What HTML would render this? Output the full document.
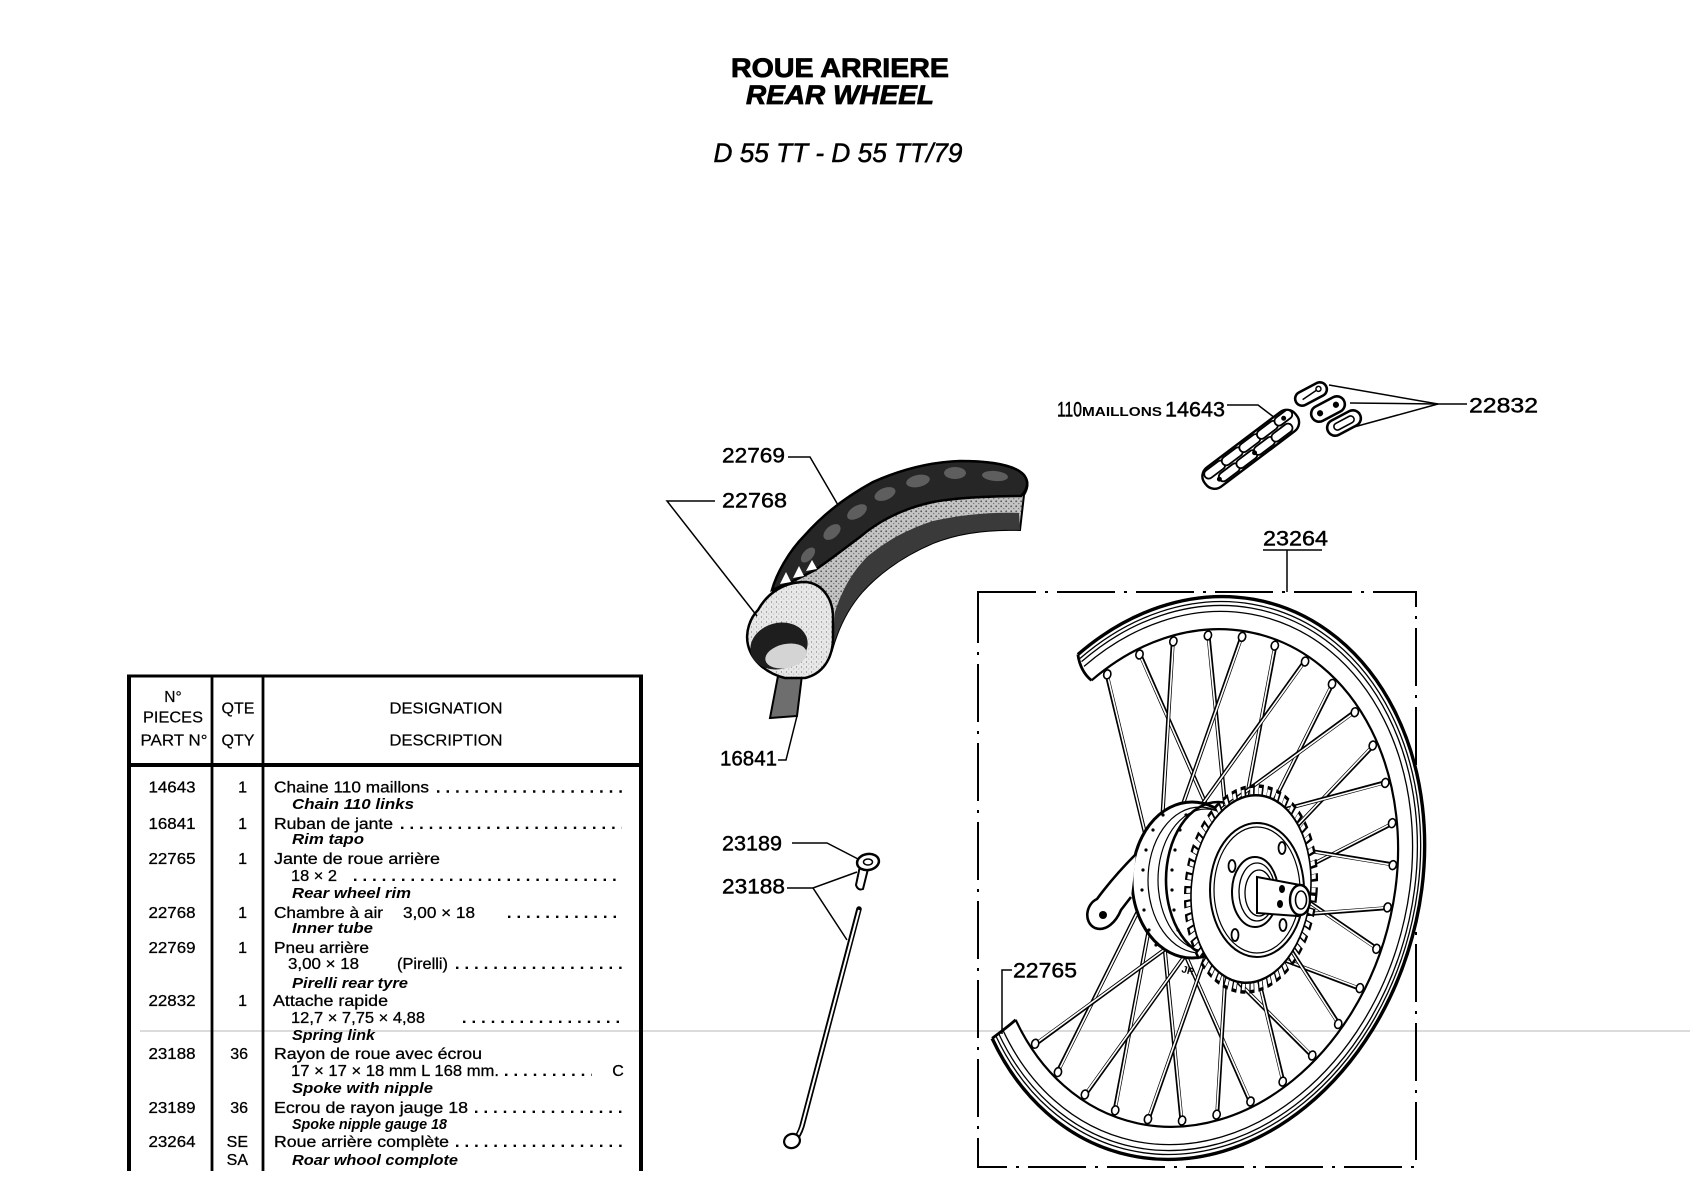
<!DOCTYPE html>
<html><head><meta charset="utf-8">
<style>
html,body{margin:0;padding:0;background:#fff;}
svg{display:block;}
text{font-family:"Liberation Sans",Arial,sans-serif;fill:#000;}
.t{font-size:16px;stroke:#000;stroke-width:0.3;}
.i{font-size:15px;font-style:italic;font-weight:bold;}
.h{font-size:15.5px;stroke:#000;stroke-width:0.2;}
.lb{font-size:21px;stroke:#000;stroke-width:0.45;}
.ld{stroke:#000;stroke-width:1.5;fill:none;}
.dt{stroke:#000;stroke-width:2.4;stroke-dasharray:2.4 7.2;}
</style></head>
<body>
<svg width="1690" height="1200" viewBox="0 0 1690 1200" xmlns="http://www.w3.org/2000/svg">
<defs>
<pattern id="st" width="5" height="5" patternUnits="userSpaceOnUse">
<rect width="5" height="5" fill="#c4c4c4"/><circle cx="1.2" cy="1.3" r="0.9" fill="#555"/><circle cx="3.7" cy="3.6" r="0.7" fill="#777"/>
</pattern>
<pattern id="st2" width="5" height="5" patternUnits="userSpaceOnUse">
<rect width="5" height="5" fill="#e8e8e8"/><circle cx="1.5" cy="2" r="0.6" fill="#777"/><circle cx="3.8" cy="4" r="0.5" fill="#999"/>
</pattern>
<g id="spA">
<line x1="250" y1="0" x2="24" y2="41.6" stroke="#000" stroke-width="4" vector-effect="non-scaling-stroke"/>
<line x1="246" y1="0" x2="24" y2="41.6" stroke="#fff" stroke-width="1.6" vector-effect="non-scaling-stroke"/>
</g>
<g id="spB">
<line x1="250" y1="0" x2="24" y2="-41.6" stroke="#000" stroke-width="4" vector-effect="non-scaling-stroke"/>
<line x1="246" y1="0" x2="24" y2="-41.6" stroke="#fff" stroke-width="1.6" vector-effect="non-scaling-stroke"/>
</g>
<g id="np">
<circle cx="246" cy="0" r="4.5" fill="#fff" stroke="#000" stroke-width="1.6" vector-effect="non-scaling-stroke"/>
</g>
</defs>
<rect width="1690" height="1200" fill="#fff"/>

<!-- faint scan line -->
<line x1="140" y1="1031" x2="1690" y2="1031" stroke="#cfcfcf" stroke-width="1.5"/>

<!-- Titles -->
<text x="840" y="77" font-size="27" font-weight="bold" text-anchor="middle" textLength="218" lengthAdjust="spacingAndGlyphs" stroke="#000" stroke-width="0.8">ROUE ARRIERE</text>
<text x="840" y="104" font-size="27" font-weight="bold" font-style="italic" text-anchor="middle" textLength="188" lengthAdjust="spacingAndGlyphs" stroke="#000" stroke-width="0.8">REAR WHEEL</text>
<text x="838" y="162" font-size="27" font-style="italic" text-anchor="middle" textLength="249" lengthAdjust="spacingAndGlyphs" stroke="#000" stroke-width="0.5">D 55 TT - D 55 TT/79</text>

<!-- TABLE -->
<g stroke="#000" fill="none">
<line x1="127" y1="676" x2="643" y2="676" stroke-width="3"/>
<line x1="127" y1="765" x2="643" y2="765" stroke-width="4"/>
<line x1="129" y1="675" x2="129" y2="1171" stroke-width="4"/>
<line x1="212" y1="675" x2="212" y2="1171" stroke-width="2.8"/>
<line x1="263" y1="675" x2="263" y2="1171" stroke-width="2.8"/>
<line x1="641" y1="675" x2="641" y2="1171" stroke-width="4"/>
</g>
<g text-anchor="middle">
<text class="h" x="173" y="702">N°</text>
<text class="h" x="173" y="722.5" textLength="60" lengthAdjust="spacingAndGlyphs">PIECES</text>
<text class="h" x="174" y="745.5" textLength="67" lengthAdjust="spacingAndGlyphs">PART N°</text>
<text class="h" x="238" y="713.5" textLength="33" lengthAdjust="spacingAndGlyphs">QTE</text>
<text class="h" x="238" y="745.5" textLength="33" lengthAdjust="spacingAndGlyphs">QTY</text>
<text class="h" x="446" y="713.5" textLength="113" lengthAdjust="spacingAndGlyphs">DESIGNATION</text>
<text class="h" x="446" y="745.5" textLength="113" lengthAdjust="spacingAndGlyphs">DESCRIPTION</text>
</g>

<!-- part numbers -->
<g text-anchor="middle">
<text class="t" x="172" y="792.5" textLength="47" lengthAdjust="spacingAndGlyphs">14643</text>
<text class="t" x="172" y="828.8" textLength="47" lengthAdjust="spacingAndGlyphs">16841</text>
<text class="t" x="172" y="863.8" textLength="47" lengthAdjust="spacingAndGlyphs">22765</text>
<text class="t" x="172" y="917.8" textLength="47" lengthAdjust="spacingAndGlyphs">22768</text>
<text class="t" x="172" y="952.8" textLength="47" lengthAdjust="spacingAndGlyphs">22769</text>
<text class="t" x="172" y="1005.8" textLength="47" lengthAdjust="spacingAndGlyphs">22832</text>
<text class="t" x="172" y="1058.8" textLength="47" lengthAdjust="spacingAndGlyphs">23188</text>
<text class="t" x="172" y="1112.8" textLength="47" lengthAdjust="spacingAndGlyphs">23189</text>
<text class="t" x="172" y="1146.8" textLength="47" lengthAdjust="spacingAndGlyphs">23264</text>
</g>
<!-- qty -->
<g text-anchor="end">
<text class="t" x="247" y="792.5">1</text>
<text class="t" x="247" y="828.8">1</text>
<text class="t" x="247" y="863.8">1</text>
<text class="t" x="247" y="917.8">1</text>
<text class="t" x="247" y="952.8">1</text>
<text class="t" x="247" y="1005.8">1</text>
<text class="t" x="248" y="1058.8">36</text>
<text class="t" x="248" y="1112.8">36</text>
<text class="t" x="248" y="1146.8">SE</text>
<text class="t" x="248" y="1164.8">SA</text>
</g>
<!-- designations -->
<text class="t" x="274" y="792.5" textLength="155" lengthAdjust="spacingAndGlyphs">Chaine 110 maillons</text>
<text class="i" x="292" y="808.8" textLength="122" lengthAdjust="spacingAndGlyphs">Chain 110 links</text>
<text class="t" x="274" y="828.8" textLength="119" lengthAdjust="spacingAndGlyphs">Ruban de jante</text>
<text class="i" x="292" y="843.8" textLength="72" lengthAdjust="spacingAndGlyphs">Rim tapo</text>
<text class="t" x="274" y="863.8" textLength="166" lengthAdjust="spacingAndGlyphs">Jante de roue arrière</text>
<text class="t" x="291" y="880.8" textLength="46" lengthAdjust="spacingAndGlyphs">18 × 2</text>
<text class="i" x="292" y="897.8" textLength="119" lengthAdjust="spacingAndGlyphs">Rear wheel rim</text>
<text class="t" x="274" y="917.8" textLength="109" lengthAdjust="spacingAndGlyphs">Chambre à air</text>
<text class="t" x="403" y="917.8" textLength="72" lengthAdjust="spacingAndGlyphs">3,00 × 18</text>
<text class="i" x="292" y="932.8" textLength="81" lengthAdjust="spacingAndGlyphs">Inner tube</text>
<text class="t" x="274" y="952.8" textLength="95" lengthAdjust="spacingAndGlyphs">Pneu arrière</text>
<text class="t" x="288" y="968.8" textLength="71" lengthAdjust="spacingAndGlyphs">3,00 × 18</text>
<text class="t" x="397" y="968.8" textLength="51" lengthAdjust="spacingAndGlyphs">(Pirelli)</text>
<text class="i" x="292" y="987.8" textLength="116" lengthAdjust="spacingAndGlyphs">Pirelli rear tyre</text>
<text class="t" x="273" y="1005.8" textLength="115" lengthAdjust="spacingAndGlyphs">Attache rapide</text>
<text class="t" x="291" y="1022.8" textLength="134" lengthAdjust="spacingAndGlyphs">12,7 × 7,75 × 4,88</text>
<text class="i" x="292" y="1039.8" textLength="83" lengthAdjust="spacingAndGlyphs">Spring link</text>
<text class="t" x="274" y="1058.8" textLength="208" lengthAdjust="spacingAndGlyphs">Rayon de roue avec écrou</text>
<text class="t" x="291" y="1075.8" textLength="208" lengthAdjust="spacingAndGlyphs">17 × 17 × 18 mm L 168 mm.</text>
<text class="t" x="618" y="1075.8" text-anchor="middle">C</text>
<text class="i" x="292" y="1092.8" textLength="141" lengthAdjust="spacingAndGlyphs">Spoke with nipple</text>
<text class="t" x="274" y="1112.8" textLength="194" lengthAdjust="spacingAndGlyphs">Ecrou de rayon jauge 18</text>
<text class="i" x="292" y="1128.8" textLength="155" lengthAdjust="spacingAndGlyphs">Spoke nipple gauge 18</text>
<text class="t" x="274" y="1146.8" textLength="175" lengthAdjust="spacingAndGlyphs">Roue arrière complète</text>
<text class="i" x="292" y="1164.8" textLength="166" lengthAdjust="spacingAndGlyphs">Roar whool complote</text>
<!-- dot leaders -->
<line class="dt" x1="437" y1="791.5" x2="622" y2="791.5"/>
<line class="dt" x1="401" y1="827.8" x2="622" y2="827.8"/>
<line class="dt" x1="354" y1="879.8" x2="622" y2="879.8"/>
<line class="dt" x1="508" y1="916.8" x2="622" y2="916.8"/>
<line class="dt" x1="456" y1="967.8" x2="622" y2="967.8"/>
<line class="dt" x1="463" y1="1021.8" x2="622" y2="1021.8"/>
<line class="dt" x1="505" y1="1074.8" x2="592" y2="1074.8"/>
<line class="dt" x1="475" y1="1111.8" x2="622" y2="1111.8"/>
<line class="dt" x1="456" y1="1145.8" x2="622" y2="1145.8"/>

<!-- CHAIN -->
<text class="lb" x="1057" y="416.5" textLength="25" lengthAdjust="spacingAndGlyphs">110</text>
<text x="1082" y="416" font-size="13" font-weight="bold" textLength="80" lengthAdjust="spacingAndGlyphs">MAILLONS</text>
<text class="lb" x="1165" y="416.5" textLength="60" lengthAdjust="spacingAndGlyphs">14643</text>
<polyline class="ld" points="1227,405 1258,405 1275,418"/>
<g transform="translate(1210,480) rotate(-37)" stroke="#000" fill="#fff">
<rect x="-6" y="-12" width="114" height="24" rx="11" stroke-width="2.4"/>
<rect x="-2" y="-10" width="24" height="9" rx="4.5" stroke-width="1.8"/>
<rect x="20" y="-10" width="24" height="9" rx="4.5" stroke-width="1.8"/>
<rect x="42" y="-10" width="24" height="9" rx="4.5" stroke-width="1.8"/>
<rect x="64" y="-10" width="24" height="9" rx="4.5" stroke-width="1.8"/>
<rect x="86" y="-10" width="20" height="9" rx="4.5" stroke-width="1.8"/>
<rect x="8" y="1" width="24" height="9" rx="4.5" stroke-width="1.8"/>
<rect x="30" y="1" width="24" height="9" rx="4.5" stroke-width="1.8"/>
<rect x="52" y="1" width="24" height="9" rx="4.5" stroke-width="1.8"/>
<rect x="74" y="1" width="24" height="9" rx="4.5" stroke-width="1.8"/>
<circle cx="8" cy="5" r="2" fill="#000"/><circle cx="52" cy="5" r="2" fill="#000"/><circle cx="96" cy="-5" r="2" fill="#000"/>
</g>
<g stroke="#000" fill="#fff">
<g transform="translate(1311,394) rotate(-28)">
<rect x="-17" y="-7" width="34" height="14" rx="7" stroke-width="2.6"/>
<line x1="-10" y1="1" x2="9" y2="-1" stroke-width="1.5"/><circle cx="9" cy="-1" r="2.5" stroke-width="1.5"/>
</g>
<g transform="translate(1328,409) rotate(-28)">
<rect x="-18" y="-8" width="36" height="16" rx="8" stroke-width="2.6"/>
<circle cx="-9" cy="0" r="2.6" fill="#000"/><circle cx="9" cy="0" r="2.6" fill="#000"/>
</g>
<g transform="translate(1344,423) rotate(-28)">
<rect x="-18" y="-8" width="36" height="16" rx="8" stroke-width="2.6"/>
<rect x="-11" y="-3.5" width="22" height="7" rx="3.5" stroke-width="1.6"/>
</g>
</g>
<text class="lb" x="1469" y="412.5" textLength="69" lengthAdjust="spacingAndGlyphs">22832</text>
<polyline class="ld" points="1467,404 1438,404 1329,385"/>
<line class="ld" x1="1438" y1="404" x2="1350" y2="403"/>
<line class="ld" x1="1438" y1="404" x2="1354" y2="427"/>

<!-- TIRE -->
<path d="M772,590 C776,575 788,552 805,535 C820,518 840,500 873,482 C900,470 930,462 960,461 C990,461 1015,465 1024,475 C1030,483 1027,490 1024,495 L1020,530 C990,529 960,532 933,543 C905,555 880,572 862,592 C848,608 838,628 832,650 Z" fill="url(#st)" stroke="#000" stroke-width="2"/>
<path d="M772,590 C776,575 788,552 805,535 C820,518 840,500 873,482 C900,470 930,462 960,461 C990,461 1015,465 1024,475 C1030,483 1027,490 1021,496 C1000,496 960,497 933,502 C905,508 880,520 860,537 C845,548 830,560 815,570 C800,578 785,585 772,590 Z" fill="#262626" stroke="#000" stroke-width="2.5"/>
<g fill="#5e5e5e">
<ellipse cx="995" cy="476" rx="13" ry="5" transform="rotate(5 995 476)"/>
<ellipse cx="955" cy="473" rx="11" ry="6"/>
<ellipse cx="918" cy="481" rx="12" ry="6" transform="rotate(-12 918 481)"/>
<ellipse cx="885" cy="494" rx="11" ry="6" transform="rotate(-22 885 494)"/>
<ellipse cx="857" cy="512" rx="11" ry="6" transform="rotate(-32 857 512)"/>
<ellipse cx="832" cy="532" rx="10" ry="6" transform="rotate(-40 832 532)"/>
<ellipse cx="808" cy="555" rx="9" ry="5" transform="rotate(-48 808 555)"/>
</g>
<g fill="#fff">
<path d="M780,584 L786,572 L791,582 Z"/><path d="M793,578 L799,566 L804,576 Z"/><path d="M806,571 L812,560 L817,569 Z"/>
</g>
<path d="M1019,513 C990,512 960,515 933,521 C905,530 885,542 868,556 C852,572 842,590 835,612 L832,650 C838,628 848,608 862,592 C880,572 905,555 933,543 C960,532 990,529 1020,530 Z" fill="#3a3a3a"/>
<!-- rim tape -->
<path d="M778,676 L802,675 L797,716 L770,718 Z" fill="#6e6e6e" stroke="#000" stroke-width="2"/>
<!-- tube -->
<path d="M758,610 C768,592 785,582 805,582 C822,583 832,598 833,615 L833,640 C832,660 822,674 805,678 L785,678 C768,674 752,662 748,645 C745,632 750,618 758,610 Z" fill="url(#st2)" stroke="#000" stroke-width="2.5"/>
<ellipse cx="779" cy="646" rx="29" ry="23" transform="rotate(-15 779 646)" fill="#1e1e1e"/>
<ellipse cx="786" cy="656" rx="21" ry="12" transform="rotate(-12 786 656)" fill="#d4d4d4"/>

<text class="lb" x="722" y="462.5" textLength="63" lengthAdjust="spacingAndGlyphs">22769</text>
<polyline class="ld" points="788,457 810,457 838,505"/>
<text class="lb" x="722" y="507.5" textLength="65" lengthAdjust="spacingAndGlyphs">22768</text>
<polyline class="ld" points="715,501 667,501 757,616"/>
<text class="lb" x="720" y="765.5" textLength="57" lengthAdjust="spacingAndGlyphs">16841</text>
<polyline class="ld" points="778,760 786,760 797,716"/>

<!-- SPOKE & NIPPLE -->
<text class="lb" x="722" y="850.5" textLength="60" lengthAdjust="spacingAndGlyphs">23189</text>
<polyline class="ld" points="792,843 827,843 860,860"/>
<text class="lb" x="722" y="893.5" textLength="63" lengthAdjust="spacingAndGlyphs">23188</text>
<polyline class="ld" points="787,888 813,888 857,872"/>
<line class="ld" x1="813" y1="888" x2="847" y2="940"/>
<path d="M859,909 L802,1126 Q799,1136 794,1140" fill="none" stroke="#000" stroke-width="5.5" stroke-linecap="round"/>
<path d="M859,910 L802,1126 Q799,1135 795,1139" fill="none" stroke="#fff" stroke-width="2"/>
<ellipse cx="792" cy="1141" rx="8" ry="7" transform="rotate(-20 792 1141)" fill="#fff" stroke="#000" stroke-width="2.2"/>
<path d="M860,866 L856,885 Q858,891 863,889 L868,869 Z" fill="#fff" stroke="#000" stroke-width="2"/>
<ellipse cx="868" cy="862" rx="11" ry="8" transform="rotate(-10 868 862)" fill="#fff" stroke="#000" stroke-width="2.5"/>
<ellipse cx="868" cy="862" rx="4.5" ry="3" fill="none" stroke="#000" stroke-width="1.5"/>

<!-- WHEEL BOX -->
<rect x="978" y="592" width="438" height="575" fill="none" stroke="#000" stroke-width="2" stroke-dasharray="58 9 3 9"/>
<text class="lb" x="1263" y="545.5" textLength="65" lengthAdjust="spacingAndGlyphs">23264</text>
<line class="ld" x1="1263" y1="550" x2="1322" y2="550"/>
<line class="ld" x1="1287" y1="550" x2="1287" y2="592"/>

<!-- WHEEL -->
<g transform="translate(1195 878) rotate(15) scale(0.79 1)">
<use href="#spB" transform="rotate(5)"/>
<use href="#spA" transform="rotate(15)"/>
<use href="#spB" transform="rotate(25)"/>
<use href="#spA" transform="rotate(35)"/>
<use href="#spB" transform="rotate(45)"/>
<use href="#spA" transform="rotate(55)"/>
<use href="#spB" transform="rotate(65)"/>
<use href="#spA" transform="rotate(75)"/>
<use href="#spB" transform="rotate(85)"/>
<use href="#spA" transform="rotate(95)"/>
<use href="#spB" transform="rotate(105)"/>
<use href="#spA" transform="rotate(115)"/>
<use href="#spB" transform="rotate(125)"/>
<use href="#spB" transform="rotate(225)"/>
<use href="#spA" transform="rotate(235)"/>
<use href="#spB" transform="rotate(245)"/>
<use href="#spA" transform="rotate(255)"/>
<use href="#spB" transform="rotate(265)"/>
<use href="#spA" transform="rotate(275)"/>
<use href="#spB" transform="rotate(285)"/>
<use href="#spA" transform="rotate(295)"/>
<use href="#spB" transform="rotate(305)"/>
<use href="#spA" transform="rotate(315)"/>
<use href="#spB" transform="rotate(325)"/>
<use href="#spA" transform="rotate(335)"/>
<use href="#spB" transform="rotate(345)"/>
<use href="#spA" transform="rotate(355)"/>
<!-- rim -->
<path d="M-216.4,-185.5 A285,285 0 1 1 -195.5,207.4 L-172.8,183.4 A252,252 0 1 0 -191.3,-164.0 Z" fill="#fff" stroke="none"/>
<g fill="none" stroke="#000">
<path d="M-216.4,-185.5 A285,285 0 1 1 -195.5,207.4" stroke-width="3.4" vector-effect="non-scaling-stroke"/>
<path d="M-212.6,-182.2 A280,280 0 1 1 -192.0,203.8" stroke-width="1.3" vector-effect="non-scaling-stroke"/>
<path d="M-209.6,-179.6 A276,276 0 1 1 -189.3,200.9" stroke-width="1.3" vector-effect="non-scaling-stroke"/>
<path d="M-205.0,-175.7 A270,270 0 1 1 -185.2,196.5" stroke-width="1.3" vector-effect="non-scaling-stroke"/>
<path d="M-191.3,-164.0 A252,252 0 1 1 -172.8,183.4" stroke-width="2.2" vector-effect="non-scaling-stroke"/>
<path d="M-216.4,-185.5 Q-208,-170 -191.3,-164.0" stroke-width="2.8" vector-effect="non-scaling-stroke"/>
<path d="M-195.5,207.4 Q-180,192 -172.8,183.4" stroke-width="2.8" vector-effect="non-scaling-stroke"/>
</g>
<use href="#np" transform="rotate(5)"/><use href="#np" transform="rotate(15)"/><use href="#np" transform="rotate(25)"/>
<use href="#np" transform="rotate(35)"/><use href="#np" transform="rotate(45)"/><use href="#np" transform="rotate(55)"/>
<use href="#np" transform="rotate(65)"/><use href="#np" transform="rotate(75)"/><use href="#np" transform="rotate(85)"/>
<use href="#np" transform="rotate(95)"/><use href="#np" transform="rotate(105)"/><use href="#np" transform="rotate(115)"/>
<use href="#np" transform="rotate(125)"/><use href="#np" transform="rotate(225)"/><use href="#np" transform="rotate(235)"/>
<use href="#np" transform="rotate(245)"/><use href="#np" transform="rotate(255)"/><use href="#np" transform="rotate(265)"/>
<use href="#np" transform="rotate(275)"/><use href="#np" transform="rotate(285)"/><use href="#np" transform="rotate(295)"/>
<use href="#np" transform="rotate(305)"/><use href="#np" transform="rotate(315)"/><use href="#np" transform="rotate(325)"/>
<use href="#np" transform="rotate(335)"/><use href="#np" transform="rotate(345)"/><use href="#np" transform="rotate(355)"/>
</g>

<!-- brake drum -->
<ellipse cx="1192" cy="880" rx="60" ry="78" fill="#fff" stroke="#000" stroke-width="3"/>
<ellipse cx="1200" cy="880" rx="52" ry="73" fill="none" stroke="#000" stroke-width="1.2"/>
<ellipse cx="1206" cy="880" rx="48" ry="71" fill="none" stroke="#000" stroke-width="1.2"/>
<ellipse cx="1218" cy="880" rx="52" ry="78" fill="none" stroke="#000" stroke-width="2.6"/>
<g fill="#000">
<circle cx="1146" cy="850" r="1.6"/><circle cx="1143" cy="870" r="1.6"/><circle cx="1142" cy="890" r="1.6"/><circle cx="1144" cy="910" r="1.6"/><circle cx="1149" cy="930" r="1.6"/><circle cx="1156" cy="945" r="1.6"/><circle cx="1153" cy="830" r="1.6"/><circle cx="1163" cy="815" r="1.6"/>
<circle cx="1180" cy="830" r="1.6"/><circle cx="1175" cy="850" r="1.6"/><circle cx="1172" cy="870" r="1.6"/><circle cx="1172" cy="890" r="1.6"/><circle cx="1174" cy="910" r="1.6"/><circle cx="1178" cy="930" r="1.6"/><circle cx="1186" cy="815" r="1.6"/>
</g>
<!-- brake lever -->
<path d="M1136,854 C1122,868 1108,884 1097,899 C1086,904 1083,922 1095,928 C1106,932 1116,922 1121,910 L1131,897" fill="#fff" stroke="#000" stroke-width="2.6"/>
<circle cx="1103" cy="915" r="4" fill="#000"/>

<!-- sprocket -->
<g transform="translate(1251 889) rotate(5) scale(0.635 1)">
<circle r="99" fill="none" stroke="#000" stroke-width="12" stroke-dasharray="7.8 5.86"/>
<circle r="98" fill="none" stroke="#fff" stroke-width="7" stroke-dasharray="4.6 8.9" stroke-dashoffset="-1.4"/>
<circle r="94" fill="#fff" stroke="#000" stroke-width="2.5"/>
</g>
<g fill="none" stroke="#000">
<ellipse cx="1257" cy="890" rx="47" ry="67" stroke-width="2"/>
<ellipse cx="1257" cy="890" rx="43" ry="63" stroke-width="1.2"/>
<ellipse cx="1255" cy="892" rx="23" ry="35" stroke-width="2" fill="#fff"/>
<ellipse cx="1257" cy="892" rx="18" ry="29" stroke-width="1.3"/>
<ellipse cx="1259" cy="893" rx="14" ry="23" stroke-width="1.3"/>
<ellipse cx="1282" cy="848" rx="3.5" ry="6" stroke-width="1.8"/>
<ellipse cx="1232" cy="866" rx="3.5" ry="6" stroke-width="1.8"/>
<ellipse cx="1235" cy="935" rx="3.5" ry="6" stroke-width="1.8"/>
<ellipse cx="1283" cy="925" rx="3.5" ry="6" stroke-width="1.8"/>
</g>
<path d="M1257,877 L1300,885 L1298,916 L1257,913 Z" fill="#fff" stroke="#000" stroke-width="2"/>
<ellipse cx="1300" cy="900" rx="10" ry="15" fill="#fff" stroke="#000" stroke-width="2.4"/>
<ellipse cx="1301" cy="900" rx="5.5" ry="9" fill="none" stroke="#000" stroke-width="1.6"/>
<ellipse cx="1282" cy="889" rx="3" ry="4" fill="#000"/>
<ellipse cx="1280" cy="904" rx="3" ry="4" fill="#000"/>
<text x="1181" y="972" font-size="10" font-weight="bold" transform="rotate(15 1181 972)">JR</text>

<!-- 22765 label -->
<text class="lb" x="1013" y="977.5" textLength="64" lengthAdjust="spacingAndGlyphs">22765</text>
<polyline class="ld" points="1012,970 1002,970 1002,1034"/>
</svg>
</body></html>
